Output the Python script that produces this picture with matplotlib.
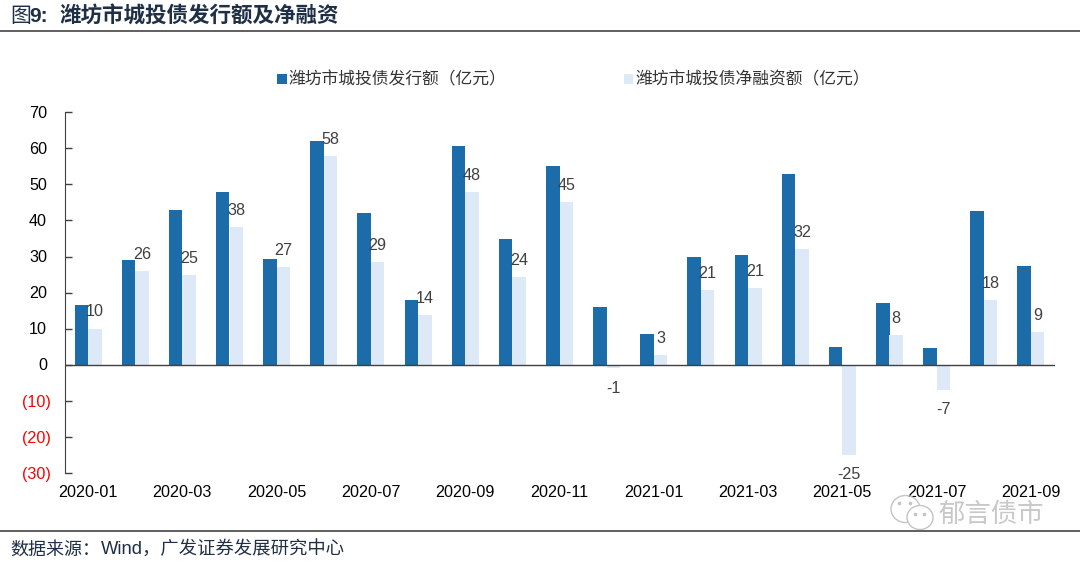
import matplotlib
matplotlib.use("Agg")
import matplotlib.pyplot as plt
from matplotlib.patches import Ellipse
import numpy as np

plt.rcParams['font.family'] = ['Liberation Sans', 'Noto Sans CJK SC']

months = ['2020-01', '2020-02', '2020-03', '2020-04', '2020-05', '2020-06', '2020-07',
          '2020-08', '2020-09', '2020-10', '2020-11', '2020-12', '2021-01', '2021-02',
          '2021-03', '2021-04', '2021-05', '2021-06', '2021-07', '2021-08', '2021-09']
issuance = [16.5, 29, 43, 48, 29.2, 62, 42, 18, 60.8, 35, 55.2, 16, 8.5, 30,
            30.5, 53, 5, 17.2, 4.5, 42.5, 27.5]
net_financing = [10, 26, 24.8, 38.2, 27.2, 58, 28.6, 13.8, 47.8, 24.4, 45, -1, 2.6, 20.6,
                 21.3, 32, -25, 8.2, -7, 18, 9]
yticks = [-30, -20, -10, 0, 10, 20, 30, 40, 50, 60, 70]
yticklabels = ['(30)', '(20)', '(10)', '0', '10', '20', '30', '40', '50', '60', '70']

W, H = 1080, 562
DARK = '#1B6CA8'
LIGHT = '#DDE9F6'
NAVY = '#1F2F45'

fig = plt.figure(figsize=(W / 100, H / 100), dpi=100)
ax = fig.add_axes([64.5 / W, 1 - 472.5 / H, 990 / W, 360 / H])

x = np.arange(len(months))
bw = 0.285
b1 = ax.bar(x - bw / 2, issuance, bw, color=DARK, label='潍坊市城投债发行额（亿元）')
b2 = ax.bar(x + bw / 2, net_financing, bw, color=LIGHT, label='潍坊市城投债净融资额（亿元）')

# labels sit above the light bars, below when negative
for xi, v in zip(x, net_financing):
    if v < 0:
        ax.annotate('%d' % round(v), (xi + bw / 2, v), xytext=(0, -9), textcoords='offset points',
                    ha='center', va='top', fontsize=11.6, color='#404040')
    else:
        ax.annotate('%d' % round(v), (xi + bw / 2, v), xytext=(0, 6.5), textcoords='offset points',
                    ha='center', va='bottom', fontsize=11.6, color='#404040')

ax.set_xlim(-0.5, len(months) - 0.5)
ax.set_ylim(-30, 70)
ax.set_yticks(yticks)
ax.set_yticklabels(yticklabels, fontsize=11.6)
ax.tick_params(axis='y', direction='in', length=5, width=1, color='#404040')
for tick, v in zip(ax.yaxis.get_major_ticks(), yticks):
    tick.set_pad(9.7 if v < 0 else 12.6)
    tick.label1.set_color('#FF0000' if v < 0 else 'black')
ax.set_xticks(x[::2])
ax.set_xticklabels(months[::2], fontsize=11.6)
ax.tick_params(axis='x', length=0, pad=9)

for s in ['top', 'right', 'bottom']:
    ax.spines[s].set_visible(False)
ax.spines['left'].set_color('#404040')
ax.axhline(0, color='#404040', lw=1)

fig.legend(handles=[b1, b2], loc='upper left', bbox_to_anchor=(269 / W, 1 - 63 / H), ncols=2,
           frameon=False, fontsize=12.1, handlelength=0.55, handleheight=0.55, handletextpad=0.12,
           columnspacing=7.0, borderpad=0, labelcolor='#333333')

# header and footer
fig.text(10 / W, 1 - 17 / H, '图', fontsize=15, color=NAVY, va='center')
fig.text(29 / W, 1 - 17 / H, '9:', fontsize=15, fontweight='bold', color=NAVY, va='center')
fig.text(59 / W, 1 - 17 / H, '潍坊市城投债发行额及净融资', fontsize=15.5, fontweight='bold', color=NAVY, va='center')
fig.add_artist(plt.Line2D([0, 1], [1 - 31 / H] * 2, color='#444444', lw=1.2))
fig.add_artist(plt.Line2D([0, 1], [1 - 530.5 / H] * 2, color='#444444', lw=1.2))
fig.text(10 / W, 1 - 550 / H, '数据来源：', fontsize=13, color=NAVY, va='center')
fig.text(101 / W, 1 - 550 / H, 'Wind，广发证券发展研究中心', fontsize=13.2, color=NAVY, va='center')

# watermark
wm = fig.add_axes([0, 0, 1, 1], facecolor='none')
wm.set_xlim(0, W)
wm.set_ylim(H, 0)
wm.axis('off')
wm.add_patch(Ellipse((905.5, 509), 29, 27, fc='none', ec='#C4C4C4', lw=1))
wm.add_patch(Ellipse((920, 517.5), 26, 24, fc='white', ec='#C4C4C4', lw=1))
wm.plot([899, 910, 915, 924], [503, 503, 514, 514], ls='none', marker='o', ms=1.6, color='#C4C4C4')
wm.text(938, 514, '郁言债市', fontsize=19, color='#C8C8C8', va='center', family='Noto Sans CJK SC')

fig.savefig('out.png', dpi=100)
